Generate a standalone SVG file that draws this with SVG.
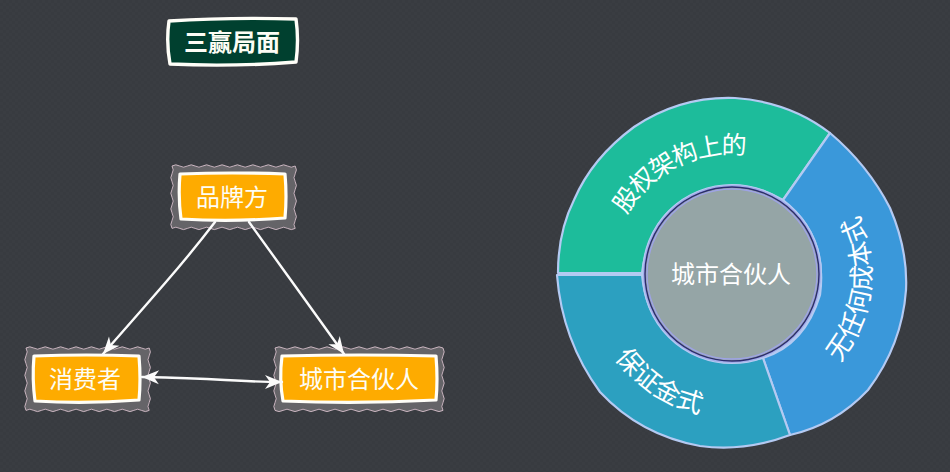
<svg xmlns="http://www.w3.org/2000/svg" width="950" height="472" viewBox="0 0 950 472">
<style>
text{font-family:"Noto Sans CJK SC","Liberation Sans",sans-serif;fill:#fdfdf5;font-size:24px;text-anchor:middle}
.halo{fill:#656468;stroke:#e6ccd8;stroke-width:0.8}
.box{fill:#feab00;stroke:#fffef8;stroke-width:3.2;stroke-linejoin:round}
.edge{fill:none;stroke:#fbfbfb;stroke-width:2.4;stroke-linecap:round;marker-end:url(#arrow)}
.seg{stroke:#b4caf2;stroke-width:2.2;stroke-linejoin:round}
.ring text{fill:#ffffff}
</style>
<defs>
<pattern id="bg" width="6" height="6" patternUnits="userSpaceOnUse"><rect width="6" height="6" fill="#383b40"/><path d="M0 0h3v3h-3zM3 3h3v3h-3z" fill="#3a3d42"/></pattern>
<marker id="arrow" markerUnits="userSpaceOnUse" markerWidth="22" markerHeight="18" refX="18" refY="9" orient="auto-start-reverse"><path d="M1 2L18 9L1 16L6 9Z" fill="#fbfbfb"/></marker>
<path id="t1" d="M611.5 263.5A120 120 0 0 1 792.8 171.1"/>
<path id="t2" d="M796.7 397.6A140 140 0 0 0 825.1 170.3"/>
<path id="t3" d="M590.9 302.5A143 143 0 0 0 759.5 414.1"/>
</defs>
<rect width="950" height="472" fill="url(#bg)"/>

<g id="title">
<path d="M169 21Q230 17 296 19Q299 40 296 62Q232 67 170 64Q166 42 169 21Z" fill="#00402f" stroke="#fffef8" stroke-width="3.4" stroke-linejoin="round"/>
<text x="232" y="51" style="font-weight:700">三赢局面</text>
</g>

<g id="node-brand">
<path class="halo" d="M172 166q3.85 -2.4 7.7 0t7.7 0t7.7 0t7.7 0t7.7 0t7.7 0t7.7 0t7.7 0t7.7 0t7.7 0t7.7 0t7.7 0t7.7 0t7.7 0t7.7 0t7.7 0q2.4 3.9 0 7.8t0 7.8t0 7.8t0 7.8t0 7.8t0 7.8t0 7.8t0 7.8q-3.85 2.4 -7.7 0t-7.7 0t-7.7 0t-7.7 0t-7.7 0t-7.7 0t-7.7 0t-7.7 0t-7.7 0t-7.7 0t-7.7 0t-7.7 0t-7.7 0t-7.7 0t-7.7 0t-7.7 0q-2.4 -3.9 0 -7.8t0 -7.8t0 -7.8t0 -7.8t0 -7.8t0 -7.8t0 -7.8t0 -7.8Z"/>
<path class="box" d="M180 174Q232 172 285 174Q287 197 285 218Q232 222 181 219Q178 197 180 174Z"/>
<text x="232" y="206">品牌方</text>
</g>

<g id="node-consumer">
<path class="halo" d="M26 348q3.85 -2.4 7.7 0t7.7 0t7.7 0t7.7 0t7.7 0t7.7 0t7.7 0t7.7 0t7.7 0t7.7 0t7.7 0t7.7 0t7.7 0t7.7 0t7.7 0t7.7 0q2.4 3.9 0 7.8t0 7.8t0 7.8t0 7.8t0 7.8t0 7.8t0 7.8t0 7.8q-3.85 2.4 -7.7 0t-7.7 0t-7.7 0t-7.7 0t-7.7 0t-7.7 0t-7.7 0t-7.7 0t-7.7 0t-7.7 0t-7.7 0t-7.7 0t-7.7 0t-7.7 0t-7.7 0t-7.7 0q-2.4 -3.9 0 -7.8t0 -7.8t0 -7.8t0 -7.8t0 -7.8t0 -7.8t0 -7.8t0 -7.8Z"/>
<path class="box" d="M34 356Q86 354 139 356Q141 380 139 400Q86 404 35 401Q32 379 34 356Z"/>
<text x="85" y="388">消费者</text>
</g>

<g id="node-partner">
<path class="halo" d="M275 348q4 -2.4 8 0t8 0t8 0t8 0t8 0t8 0t8 0t8 0t8 0t8 0t8 0t8 0t8 0t8 0t8 0t8 0t8 0t8 0t8 0t8 0t8 0q2.4 3.9 0 7.8t0 7.8t0 7.8t0 7.8t0 7.8t0 7.8t0 7.8t0 7.8q-4 2.4 -8 0t-8 0t-8 0t-8 0t-8 0t-8 0t-8 0t-8 0t-8 0t-8 0t-8 0t-8 0t-8 0t-8 0t-8 0t-8 0t-8 0t-8 0t-8 0t-8 0t-8 0q-2.4 -3.9 0 -7.8t0 -7.8t0 -7.8t0 -7.8t0 -7.8t0 -7.8t0 -7.8t0 -7.8Z"/>
<path class="box" d="M282 356Q360 354 436 356Q438 380 436 400Q360 404 283 401Q279 379 282 356Z"/>
<text x="359" y="388">城市合伙人</text>
</g>

<g id="connectors">
<path class="edge" d="M215 222Q192 252 166 282T103 354"/>
<path class="edge" d="M249 222Q275 258 298 290T344 354"/>
<path class="edge" style="marker-start:url(#arrow)" d="M142 377Q190 378 225 380T282 382"/>
</g>

<g id="ring" class="ring">
<g id="seg-equity">
<path class="seg" fill="#1dbc9b" d="M558 273Q558 232 574 200Q592 158 634 127Q680 96 735 98Q790 102 830 133L783 200Q745 178 705 190Q650 208 642 273Z"/>
<text style="font-size:25px"><textPath href="#t1" startOffset="50%" letter-spacing="-1.6">股权架构上的</textPath></text>
</g>
<g id="seg-cost">
<path class="seg" fill="#3a98da" d="M830 133Q868 165 890 208Q908 250 906 290Q902 345 868 390Q835 425 790 435L763 358Q805 345 820 295Q828 235 783 200Z"/>
<text style="font-size:26px"><textPath href="#t2" startOffset="50%">无任何成本式</textPath></text>
</g>
<g id="seg-deposit">
<path class="seg" fill="#2ca0c0" d="M557 275L642 275Q648 335 700 354Q732 366 763 358L790 435Q745 452 700 446Q640 435 600 392Q562 340 557 275Z"/>
<text style="font-size:26px"><textPath href="#t3" startOffset="50%">保证金式</textPath></text>
</g>
<g id="center">
<circle cx="732" cy="274" r="89.5" fill="#a3ace9" stroke="#b4caf2" stroke-width="1.2"/>
<circle cx="732" cy="274" r="87" fill="#95a5a6" stroke="#2b2c6e" stroke-width="1.4"/>
<circle cx="732" cy="274" r="85" fill="#95a5a6" stroke="#9ea3e6" stroke-width="1.4"/>
<text x="731" y="283">城市合伙人</text>
</g>
</g>
</svg>
